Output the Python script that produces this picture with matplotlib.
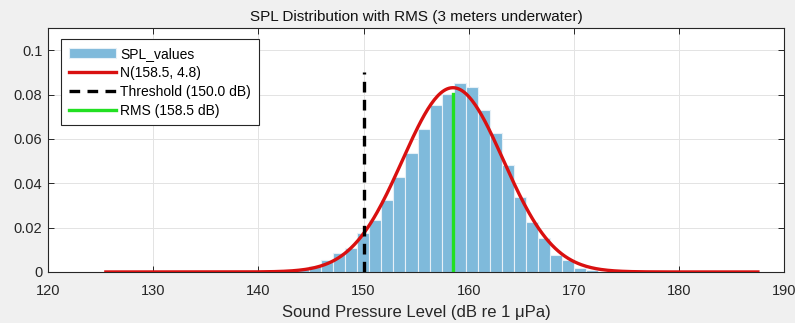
import numpy as np
import matplotlib
matplotlib.use("Agg")
import matplotlib.pyplot as plt

plt.rcParams['font.family'] = ['Liberation Sans', 'DejaVu Sans']

# --------------------------
# Datos
# --------------------------
bin_start = 142.56      # primer borde de clase (dB)
bin_width = 1.143       # ancho de clase (dB)
pdf_values = [0.0004, 0.0015, 0.0027, 0.0054, 0.0084, 0.0110, 0.0177, 0.0234,
              0.0324, 0.0429, 0.0535, 0.0647, 0.0752, 0.0805, 0.0853, 0.0835,
              0.0730, 0.0625, 0.0482, 0.0339, 0.0227, 0.0155, 0.0077, 0.0054,
              0.0018, 0.0007]
mu, sigma = 158.5, 4.8
threshold = 150.0
rms = 158.5
threshold_top = 0.09
fit_range = (125.5, 187.5)

edges = bin_start + bin_width * np.arange(len(pdf_values) + 1)
centers = edges[:-1] + bin_width / 2

# curva normal ajustada
xs = np.linspace(fit_range[0], fit_range[1], 400)
ys = np.exp(-0.5 * ((xs - mu) / sigma) ** 2) / (sigma * np.sqrt(2 * np.pi))

# altura del histograma en el RMS
idx = np.searchsorted(edges, rms) - 1
rms_top = pdf_values[idx]

# --------------------------
# Grafico
# --------------------------
fig = plt.figure(figsize=(7.95, 3.23), dpi=100, facecolor='#f0f0f0')
ax = fig.add_axes([0.0604, 0.158, 0.926, 0.755])
ax.set_facecolor('white')

h_bar = ax.bar(centers, pdf_values, width=bin_width, color='#7fbadb',
               edgecolor='#e6f0f7', linewidth=0.8, zorder=2)
h_fit, = ax.plot(xs, ys, color='#d91010', lw=2.4, zorder=3)
h_thr, = ax.plot([threshold, threshold], [0, threshold_top], color='black', lw=2.4,
                 ls=(0, (3.2, 2.2)), zorder=3)
h_rms, = ax.plot([rms, rms], [0, rms_top], color='#22e022', lw=2.4, zorder=4)

ax.set_xlim(120, 190)
ax.set_ylim(0, 0.11)
ax.set_xticks(np.arange(120, 191, 10))
ax.set_yticks([0, 0.02, 0.04, 0.06, 0.08, 0.1])
ax.set_yticklabels(['0', '0.02', '0.04', '0.06', '0.08', '0.1'])
ax.tick_params(direction='in', top=True, right=True, labelsize=10.5,
               colors='#262626', length=4, width=0.7)
ax.tick_params(axis='x', pad=9)
ax.tick_params(axis='y', pad=4)
ax.grid(True, color='#e3e3e3', lw=0.7)
ax.set_axisbelow(True)
for s in ax.spines.values():
    s.set_color('#262626')
    s.set_linewidth(0.8)

ax.set_title('SPL Distribution with RMS (3 meters underwater)', fontsize=11,
             color='#111111', pad=5)
ax.set_xlabel('Sound Pressure Level (dB re 1 μPa)', fontsize=12,
              color='#262626', labelpad=5)

leg = ax.legend([h_bar, h_fit, h_thr, h_rms],
                ['SPL_values', 'N(%.1f, %.1f)' % (mu, sigma),
                 'Threshold (%.1f dB)' % threshold, 'RMS (%.1f dB)' % rms],
                loc='upper left', bbox_to_anchor=(0.018, 0.955), fontsize=10,
                handlelength=3.4, handletextpad=0.3, labelspacing=0.36,
                borderpad=0.55, fancybox=False, framealpha=1, borderaxespad=0)
leg.get_frame().set_edgecolor('#262626')
leg.get_frame().set_linewidth(0.8)

plt.savefig('out.png', dpi=100, facecolor=fig.get_facecolor())
